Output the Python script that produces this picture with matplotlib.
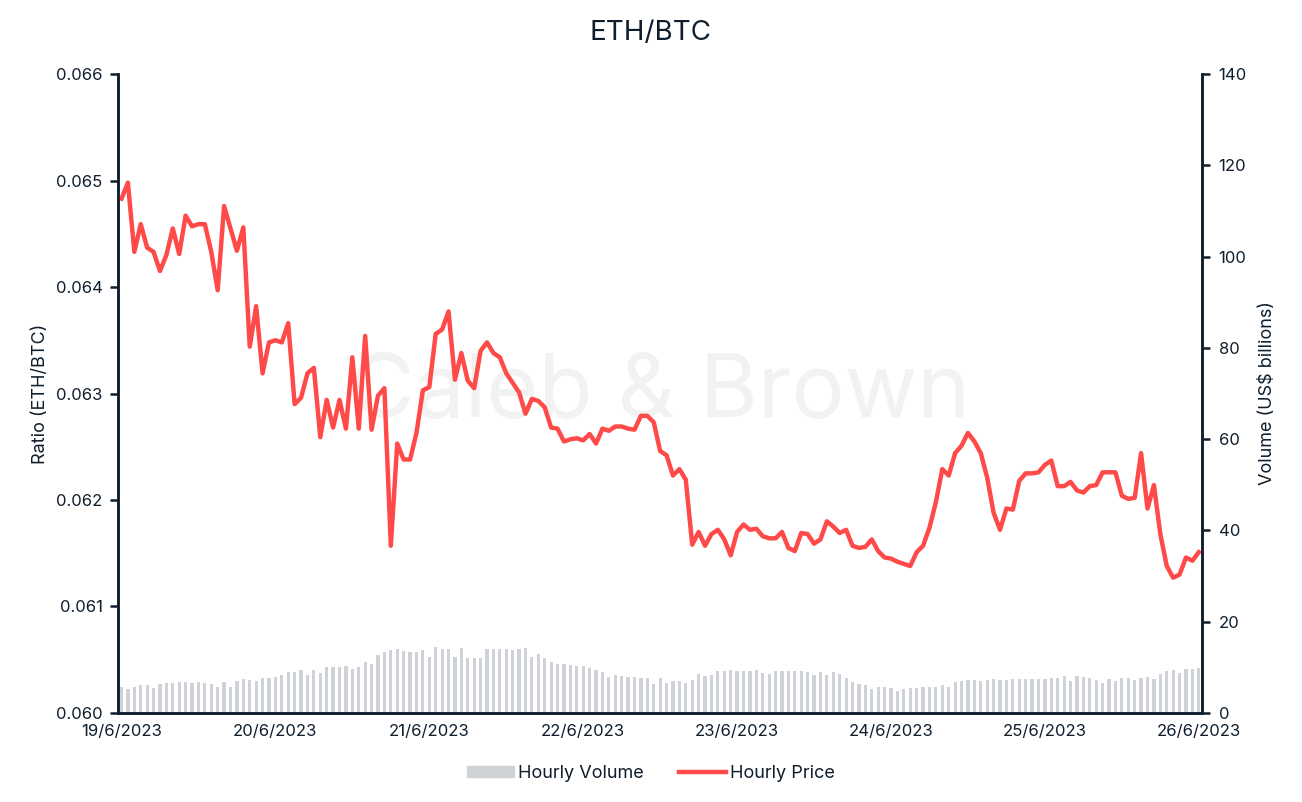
import matplotlib.pyplot as plt
from matplotlib.patches import Patch
from matplotlib.lines import Line2D
from matplotlib.ticker import FormatStrFormatter

plt.rcParams['font.family'] = ['Inter', 'DejaVu Sans']

# hourly ETH/BTC price, 19/6/2023 00:00 -> 26/6/2023 00:00
price = [
    0.06483, 0.06498, 0.06433, 0.06459, 0.06437, 0.06433, 0.06415, 0.06430, 0.06455, 0.06431,
    0.06467, 0.06457, 0.06459, 0.06459, 0.06433, 0.06397, 0.06476, 0.06455, 0.06434, 0.06456,
    0.06344, 0.06382, 0.06319, 0.06348, 0.06350, 0.06348, 0.06366, 0.06290, 0.06296, 0.06319,
    0.06324, 0.06259, 0.06294, 0.06268, 0.06294, 0.06267, 0.06334, 0.06267, 0.06354, 0.06266,
    0.06298, 0.06305, 0.06157, 0.06253, 0.06238, 0.06238, 0.06263, 0.06303, 0.06306, 0.06356,
    0.06360, 0.06377, 0.06313, 0.06338, 0.06312, 0.06305, 0.06340, 0.06348, 0.06338, 0.06334,
    0.06319, 0.06310, 0.06301, 0.06281, 0.06295, 0.06293, 0.06287, 0.06268, 0.06267, 0.06255,
    0.06257, 0.06258, 0.06256, 0.06262, 0.06253, 0.06267, 0.06265, 0.06269, 0.06269, 0.06267,
    0.06266, 0.06279, 0.06279, 0.06273, 0.06246, 0.06242, 0.06223, 0.06229, 0.06219, 0.06158,
    0.06170, 0.06157, 0.06168, 0.06172, 0.06163, 0.06148, 0.06170, 0.06177, 0.06172, 0.06173,
    0.06166, 0.06164, 0.06164, 0.06170, 0.06155, 0.06152, 0.06169, 0.06168, 0.06159, 0.06163,
    0.06180, 0.06175, 0.06169, 0.06172, 0.06157, 0.06155, 0.06156, 0.06163, 0.06152, 0.06146,
    0.06145, 0.06142, 0.06140, 0.06138, 0.06151, 0.06157, 0.06174, 0.06198, 0.06229, 0.06223,
    0.06244, 0.06251, 0.06263, 0.06255, 0.06244, 0.06221, 0.06188, 0.06172, 0.06192, 0.06191,
    0.06218, 0.06225, 0.06225, 0.06226, 0.06233, 0.06237, 0.06213, 0.06213, 0.06217, 0.06209,
    0.06207, 0.06213, 0.06214, 0.06226, 0.06226, 0.06226, 0.06204, 0.06201, 0.06202, 0.06244,
    0.06192, 0.06214, 0.06168, 0.06138, 0.06127, 0.06130, 0.06146, 0.06143, 0.06151,
]

# hourly volume, US$ billions
volume = [
    5.6, 5.2, 5.8, 6.1, 6.1, 5.4, 6.3, 6.5, 6.5, 6.7,
    6.7, 6.5, 6.7, 6.5, 6.3, 5.6, 6.7, 5.8, 6.9, 7.4,
    7.2, 6.9, 7.6, 7.6, 7.8, 8.3, 8.9, 8.9, 9.4, 8.3,
    9.4, 8.7, 10.0, 10.0, 10.0, 10.2, 9.6, 10.0, 11.1, 10.7,
    12.6, 13.3, 13.7, 14.0, 13.5, 13.3, 13.3, 13.7, 12.2, 14.4,
    14.0, 14.0, 12.2, 14.2, 12.0, 12.0, 12.0, 14.0, 14.0, 14.0,
    14.0, 13.7, 14.0, 14.2, 12.2, 12.9, 12.0, 11.1, 10.7, 10.7,
    10.5, 10.2, 10.2, 9.8, 9.4, 8.9, 7.8, 8.3, 8.0, 7.8,
    7.8, 7.6, 7.6, 6.3, 7.6, 6.5, 6.9, 6.9, 6.5, 7.2,
    8.5, 8.0, 8.3, 9.1, 9.1, 9.4, 9.1, 9.1, 9.1, 9.4,
    8.7, 8.5, 9.1, 9.1, 9.1, 9.1, 9.1, 8.9, 8.3, 8.9,
    8.3, 8.9, 8.5, 7.6, 6.7, 6.3, 6.1, 5.2, 5.6, 5.6,
    5.4, 4.8, 5.2, 5.4, 5.4, 5.6, 5.8, 5.8, 6.1, 5.8,
    6.7, 6.9, 7.2, 7.2, 6.9, 7.2, 7.4, 7.2, 7.2, 7.4,
    7.4, 7.4, 7.4, 7.4, 7.4, 7.6, 7.6, 8.0, 6.9, 8.0,
    7.8, 7.6, 7.2, 6.5, 7.4, 6.9, 7.6, 7.6, 7.2, 7.6,
    7.8, 7.4, 8.5, 9.1, 9.4, 8.7, 9.6, 9.6, 9.8,
]

day_labels = ['19/6/2023', '20/6/2023', '21/6/2023', '22/6/2023',
              '23/6/2023', '24/6/2023', '25/6/2023', '26/6/2023']

hours = list(range(len(price)))
dark = '#0f1e2d'
red = '#ff4a4a'
grey = '#cfd2d6'

fig = plt.figure(figsize=(13.02, 8.02), dpi=100)
ax = fig.add_axes([0.0906, 0.111, 0.8326, 0.7967])
ax2 = ax.twinx()

ax2.bar(hours, volume, width=0.5, color=grey, zorder=1)
ax2.text(0.5, 0.5, 'Caleb & Brown', transform=ax2.transAxes, ha='center', va='center',
         fontsize=64, color='#f2f2f2', zorder=0)
ax.plot(hours, price, color=red, linewidth=3.2, solid_joinstyle='round')

ax.set_zorder(ax2.get_zorder() + 1)
ax.patch.set_visible(False)

ax.set_xlim(-0.55, 168.5)
ax.set_ylim(0.060, 0.066)
ax2.set_ylim(0, 140)
ax.set_xticks(range(0, 169, 24))
ax.set_xticklabels(day_labels)
ax.set_yticks([0.060, 0.061, 0.062, 0.063, 0.064, 0.065, 0.066])
ax.yaxis.set_major_formatter(FormatStrFormatter('%.3f'))
ax2.set_yticks(range(0, 141, 20))

for a in (ax, ax2):
    for s in a.spines.values():
        s.set_color(dark)
        s.set_linewidth(1.8)
    a.spines['top'].set_visible(False)
    a.tick_params(colors=dark, labelsize=12, width=1.8, length=6)
ax.tick_params(axis='x', length=0, pad=8)
ax.tick_params(axis='y', pad=5)
ax2.tick_params(axis='y', pad=6)

ax.set_ylabel('Ratio (ETH/BTC)', fontsize=13, color=dark, labelpad=5)
ax2.set_ylabel('Volume (US$ billions)', fontsize=13, color=dark, labelpad=9)
fig.suptitle('ETH/BTC', fontsize=20, color=dark, y=0.975)

handles = [Patch(color=grey), Line2D([], [], color=red, linewidth=3.2)]
fig.legend(handles, ['Hourly Volume', 'Hourly Price'], loc='center', bbox_to_anchor=(0.5, 0.036),
           ncol=2, frameon=False, fontsize=13, handlelength=2.6, handleheight=0.6,
           columnspacing=2.0, handletextpad=0.2, labelcolor=dark)

fig.savefig('out.png', dpi=100)
